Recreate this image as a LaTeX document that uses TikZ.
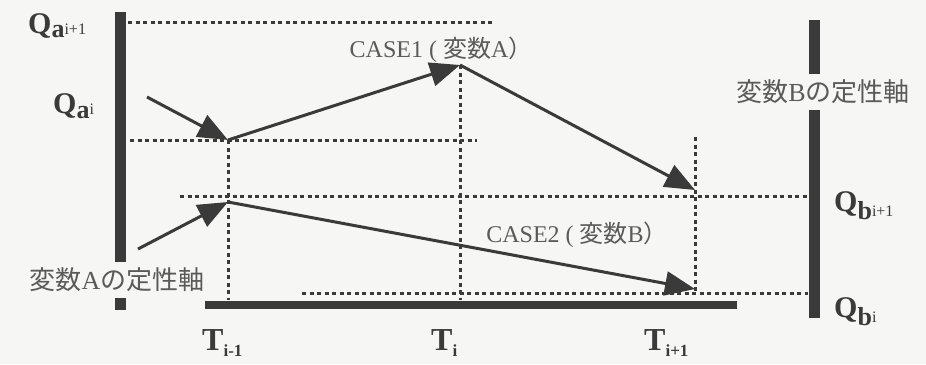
\documentclass[tikz,border=0pt]{standalone}
\usepackage{fontspec}
\setmainfont{Liberation Serif}
\newfontfamily\cjk{Noto Sans CJK JP}
\usetikzlibrary{arrows.meta}
\definecolor{ink}{HTML}{3A3A3A}
\definecolor{txt}{HTML}{5A5A5A}
\definecolor{bg}{HTML}{F6F6F4}
\newcommand{\Qlab}[4]{{\fontsize{30}{30}\selectfont\bfseries Q}\raisebox{-#3}{\fontsize{26}{26}\selectfont\bfseries #1}\raisebox{-#4}{\fontsize{16}{16}\selectfont #2}}
\newcommand{\Tlab}[1]{{\fontsize{32}{32}\selectfont\bfseries T}\raisebox{-6pt}{\fontsize{17}{17}\selectfont\bfseries #1}}
\begin{document}
\begin{tikzpicture}[x=1pt,y=-1pt,
  axisline/.style={line width=11pt, draw=ink},
  taxis/.style={line width=8pt, draw=ink},
  guide/.style={line width=3pt, draw=ink, dash pattern=on 4pt off 3.5pt},
  move/.style={line width=3pt, draw=ink, -{Triangle[length=30pt,width=24pt]}},
  qlab/.style={inner sep=0pt, anchor=base west, text=ink},
  caselab/.style={text=txt, font=\fontsize{24}{24}\selectfont, inner sep=0pt},
  axlab/.style={text=txt, font=\fontsize{26}{26}\selectfont, fill=bg, inner xsep=2pt, inner ysep=6pt}]
\fill[bg] (0,0) rectangle (926,364);
\useasboundingbox (0,0) rectangle (926,364);

% key points
\coordinate (P1) at (228,140);
\coordinate (P2) at (460,65);
\coordinate (P3) at (695,190);
\coordinate (P4) at (228,202);
\coordinate (P5) at (695,289);
\coordinate (S1) at (147,97);
\coordinate (S2) at (138,249);

% guide lines
\coordinate (g1a) at (128,22);  \coordinate (g1b) at (493,22);
\coordinate (g2a) at (130,140); \coordinate (g2b) at (477,140);
\coordinate (g3a) at (180,196); \coordinate (g3b) at (808,196);
\coordinate (g4a) at (302,293); \coordinate (g4b) at (808,293);
\coordinate (v1a) at (228,140); \coordinate (v1b) at (228,300);
\coordinate (v2a) at (460,65);  \coordinate (v2b) at (460,300);
\coordinate (v3a) at (695,137); \coordinate (v3b) at (695,293);
\draw[guide] (g1a) -- (g1b);
\draw[guide] (g2a) -- (g2b);
\draw[guide] (g3a) -- (g3b);
\draw[guide] (g4a) -- (g4b);
\draw[guide] (v1a) -- (v1b);
\draw[guide] (v2a) -- (v2b);
\draw[guide] (v3a) -- (v3b);

% axes
\coordinate (LA1) at (120,12);  \coordinate (LA2) at (120,310);
\coordinate (RA1) at (814,20);  \coordinate (RA2) at (814,318);
\coordinate (TA1) at (205,305); \coordinate (TA2) at (737,305);
\draw[axisline] (LA1) -- (LA2);
\draw[axisline] (RA1) -- (RA2);
\draw[taxis] (TA1) -- (TA2);

% movements
\draw[move] (S1) -- (P1);
\draw[move] (P1) -- (P2);
\draw[move] (P2) -- (P3);
\draw[move] (S2) -- (P4);
\draw[move] (P4) -- (P5);

% labels
\node[axlab] (alab) at (117,280) {{\cjk 変数}A{\cjk の定性軸}};
\node[axlab] (blab) at (823,92) {{\cjk 変数}B{\cjk の定性軸}};
\node[caselab] (c1) at (441,50) {CASE1 ( {\cjk 変数}A{\cjk ）}};
\node[caselab] (c2) at (577,235) {CASE2 ( {\cjk 変数}B{\cjk ）}};

\node[qlab] (qa1) at (28,33) {\Qlab{a}{i+1}{5pt}{1pt}};
\node[qlab] (qa0) at (53,113) {\Qlab{a}{i}{5pt}{1pt}};
\node[qlab] (qb1) at (834,211) {\Qlab{b}{i+1}{8pt}{5pt}};
\node[qlab] (qb0) at (834,317) {\Qlab{b}{i}{8pt}{5pt}};

\node[qlab] (t0) at (202,350) {\Tlab{i-1}};
\node[qlab] (t1) at (431,350) {\Tlab{i}};
\node[qlab] (t2) at (644,350) {\Tlab{i+1}};
\end{tikzpicture}
\end{document}
